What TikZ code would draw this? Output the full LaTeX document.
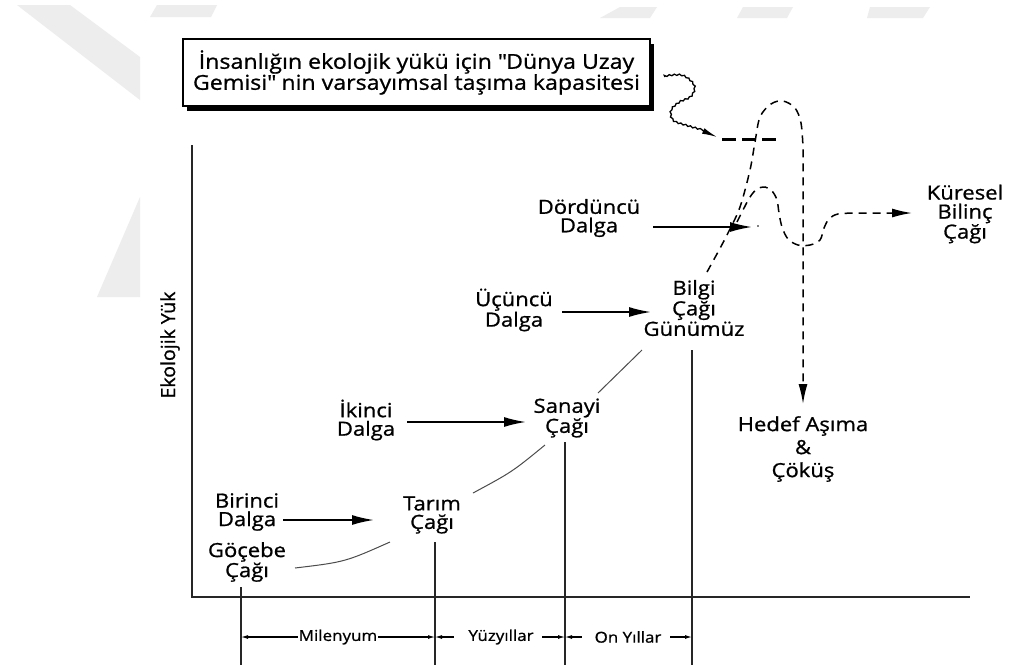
\documentclass[tikz,border=0pt]{standalone}
\usepackage{fontspec}
\setmainfont{Open Sans}[FakeStretch=1.13, FakeBold=0.9]
\newfontfamily\uprightfont{Open Sans}[FakeBold=0.9]
\usetikzlibrary{arrows.meta,decorations.pathmorphing,shadows}

\begin{document}
\begin{tikzpicture}[x=1pt,y=-1pt,
  lbl/.style={align=center, inner sep=0pt, font=\fontsize{19.5}{18.5}\selectfont},
  dimlbl/.style={inner sep=0pt, font=\fontsize{15}{15}\selectfont},
  axisline/.style={line width=1.6pt, draw=black!85},
  wavearrow/.style={line width=1.7pt, -{Latex[length=22pt,width=10pt]}},
  dimarrow/.style={line width=1.1pt, {Latex[length=7pt,width=4pt]}-},
  trend/.style={line width=1pt, draw=black!70},
  future/.style={line width=1.5pt, dash pattern=on 8pt off 6pt},
  futurearrow/.style={future, -{Latex[length=20pt,width=9pt]}},
  capline/.style={line width=3pt, dash pattern=on 14pt off 6pt},
  wm/.style={fill=black!7},
]
\useasboundingbox (0,0) rectangle (1010,665);
\fill[white] (0,0) rectangle (1010,665);

% faint background emblem
\fill[wm] (17,5) -- (70,5) -- (140,57) -- (140,100) -- cycle;
\fill[wm] (97,297) -- (140,197) -- (140,297) -- cycle;
\fill[wm] (157,5) -- (217,5) -- (211,17) -- (150,17) -- cycle;
\fill[wm] (620,7) -- (657,7) -- (650,18) -- (600,18) -- cycle;
\fill[wm] (743,7) -- (793,7) -- (787,18) -- (737,18) -- cycle;
\fill[wm] (870,7) -- (930,7) -- (923,18) -- (867,18) -- cycle;

% title box with heavy shadow
\node[draw, line width=1.5pt, fill=white, minimum width=467pt, minimum height=67pt,
      inner sep=0pt, align=center, font=\fontsize{20.5}{21}\selectfont,
      drop shadow={shadow xshift=4pt, shadow yshift=-5pt, fill=black, opacity=1}]
  (title) at (416.5,72.5)
  {İnsanlığın ekolojik yükü için \textquotedbl Dünya Uzay\\Gemisi\textquotedbl{} nin varsayımsal taşıma kapasitesi};

% axes
\coordinate (ytop) at (192,145);
\coordinate (origin) at (192,597);
\coordinate (xend) at (970,597);
\draw[axisline] (ytop) -- (origin) -- (xend);
\node[rotate=90, inner sep=0pt, font=\uprightfont\fontsize{19.5}{19.5}\selectfont]
  (yaxis) at (170,345) {Ekolojik Yük};

% era labels
\node[lbl] (gocebe) at (247,562) {Göçebe\\Çağı};
\node[lbl] (tarim)  at (432,515) {Tarım\\Çağı};
\node[lbl] (sanayi) at (567,418) {Sanayi\\Çağı};
\node[lbl, font=\fontsize{19.5}{20.5}\selectfont] (bilgi) at (694,308) {Bilgi\\Çağı\\Günümüz};
\node[lbl, font=\fontsize{19.5}{23}\selectfont] (hedef) at (803,449) {Hedef Aşıma\\\&\\Çöküş};
\node[lbl, font=\fontsize{19.5}{19}\selectfont] (kuresel) at (965,214) {Küresel\\Bilinç\\Çağı};

% wave labels
\node[lbl] (wave1) at (247,512) {Birinci\\Dalga};
\node[lbl] (wave2) at (366,420) {İkinci\\Dalga};
\node[lbl] (wave3) at (514,310) {Üçüncü\\Dalga};
\node[lbl] (wave4) at (589,218) {Dördüncü\\Dalga};

% wave arrows
\coordinate (w1s) at (283,520); \coordinate (w1e) at (374,520);
\coordinate (w2s) at (407,422); \coordinate (w2e) at (526,422);
\coordinate (w3s) at (562,312); \coordinate (w3e) at (651,312);
\coordinate (w4s) at (653,227); \coordinate (w4e) at (752,227);
\draw[wavearrow] (w1s) -- (w1e);
\draw[wavearrow] (w2s) -- (w2e);
\draw[wavearrow] (w3s) -- (w3e);
\draw[wavearrow] (w4s) -- (w4e);
\fill (758,226) circle (0.9pt);

% growth curve between eras
\coordinate (g1) at (295,568); \coordinate (t0) at (390,542);
\coordinate (t1) at (473,493); \coordinate (s0) at (545,445);
\coordinate (s1) at (598,393); \coordinate (b0) at (642,350);
\draw[trend] (g1) .. controls (345,562) .. (t0);
\draw[trend] (t1) .. controls (512,472) .. (s0);
\draw[trend] (s1) -- (b0);

% projected paths beyond today
\coordinate (b1) at (707,272);
\coordinate (hedefTip) at (803,404);
\draw[futurearrow] plot[smooth, tension=0.55] coordinates {(707,272) (718,252) (728,233) (740,207) (750,170) (755,142) (760,117) (771,104) (783,101) (795,108) (801,123) (803,147)} -- (hedefTip);
\coordinate (k1) at (737,222);
\coordinate (kuresTip) at (912,213);
\draw[futurearrow] plot[smooth, tension=0.55] coordinates {(737,222) (743,210) (750,197) (757,189) (765,187) (772,191) (777,200) (779,213) (782,227) (788,239) (798,245) (810,245) (820,240) (824,228) (829,219) (838,214) (857,213)} -- (kuresTip);

% carrying capacity level
\coordinate (capL) at (722,139);
\coordinate (capR) at (782,139);
\draw[capline] (capL) -- (capR);

% squiggly pointer from the title box
\coordinate (sq0) at (665,77);
\coordinate (sqTip) at (717,137);
\draw[line width=1.3pt, -{Latex[length=15pt,width=6pt]},
      decorate, decoration={snake, amplitude=0.7pt, segment length=5pt, post length=14pt}]
  plot[smooth, tension=0.6] coordinates {(665,77) (683,76) (695,86) (692,97) (680,103) (672,111) (674,121) (687,126) (701,130)} -- (sqTip);

% era ticks through the time axis
\coordinate (tkA) at (241,587); \coordinate (tkAb) at (241,665);
\coordinate (tkB) at (435,542); \coordinate (tkBb) at (435,665);
\coordinate (tkC) at (565,442); \coordinate (tkCb) at (565,665);
\coordinate (tkD) at (692,350); \coordinate (tkDb) at (692,665);
\draw[axisline, line width=1.4pt] (tkA) -- (tkAb);
\draw[axisline, line width=1.4pt] (tkB) -- (tkBb);
\draw[axisline, line width=1.4pt] (tkC) -- (tkCb);
\draw[axisline, line width=1.4pt] (tkD) -- (tkDb);

% time-span dimensions
\node[dimlbl] (mil) at (338,637) {Milenyum};
\node[dimlbl] (yuz) at (501,637) {Yüzyıllar};
\node[dimlbl] (onyil) at (628,637) {On Yıllar};
\coordinate (dA) at (241,637); \coordinate (dB) at (435,637);
\coordinate (dC) at (565,637); \coordinate (dD) at (692,637);
\draw[dimarrow] (dA) -- ([xshift=-1pt]mil.west);
\draw[dimarrow] (dB) -- ([xshift=1pt]mil.east);
\draw[dimarrow] (dB) -- ([xshift=-14pt]yuz.west);
\draw[dimarrow] (dC) -- ([xshift=8pt]yuz.east);
\draw[dimarrow] (dC) -- ([xshift=-12pt]onyil.west);
\draw[dimarrow] (dD) -- ([xshift=8pt]onyil.east);
\end{tikzpicture}
\end{document}
